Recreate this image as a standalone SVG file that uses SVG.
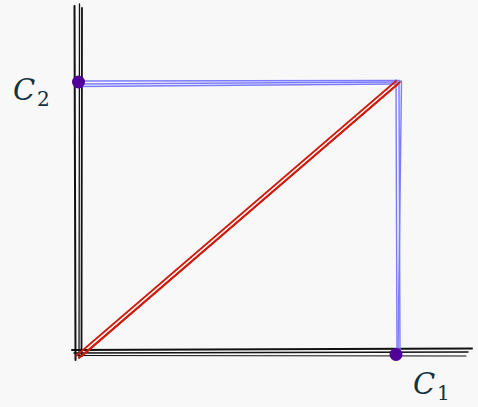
<svg xmlns="http://www.w3.org/2000/svg" width="478" height="407" viewBox="0 0 478 407">
<style>
.ax{stroke:#111;fill:none;stroke-linecap:round}
.bl{stroke:#7b7bff;fill:none;stroke-width:1.4;stroke-linecap:round}
.rd{stroke:#d11a0a;fill:none;stroke-width:1.7;stroke-linecap:round}
.dot{fill:#500099}
.lbl{font-family:"DejaVu Serif",serif;fill:#0f3340}
</style>
<rect width="478" height="407" fill="#f8f8f8"/>
<g id="connectors">
<g id="axes">
<path class="ax" stroke-width="2" d="M74.5 6 L75.5 360"/>
<path class="ax" stroke-width="1.3" d="M79.5 4 L79 358"/>
<path class="ax" stroke-width="1.8" d="M82 8 L81.5 356"/>
<path class="ax" stroke-width="2" d="M72 350 L472 348.5"/>
<path class="ax" stroke-width="1.5" d="M74 353 L468 352"/>
<path class="ax" stroke-width="1.2" d="M76 355.5 L466 356"/>
</g>
<g id="blue-lines">
<path class="bl" d="M78 81 L400 80.5"/>
<path class="bl" d="M80 84 L398 82"/>
<path class="bl" d="M79 86.5 L395 84"/>
<path class="bl" d="M396 80 L397 355"/>
<path class="bl" d="M399 82 L400 356"/>
<path class="bl" d="M401.5 81 L398 354"/>
</g>
<g id="red-lines">
<path class="rd" d="M76 356 L396 81"/>
<path class="rd" d="M82 356 L400 82"/>
<path class="rd" d="M79 358 L398 84"/>
</g>
</g>
<g id="point-c2"><circle class="dot" cx="78.5" cy="82" r="6.5"/></g>
<g id="point-c1"><circle class="dot" cx="396" cy="354.5" r="6.5"/></g>
<g id="label-c2"><text class="lbl" x="13" y="100" font-size="29" font-style="italic">C</text><text class="lbl" x="37" y="106" font-size="20">2</text></g>
<g id="label-c1"><text class="lbl" x="413" y="394" font-size="29" font-style="italic">C</text><text class="lbl" x="437" y="400" font-size="20">1</text></g>
</svg>
